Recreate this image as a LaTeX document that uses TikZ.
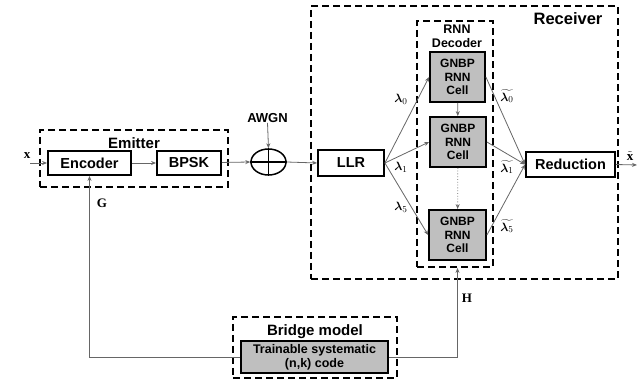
\documentclass[tikz,border=0pt]{standalone}
\usepackage{fontspec}
\usepackage{amsmath,bm}
\setmainfont{Liberation Serif}
\setsansfont{Liberation Sans}
\usetikzlibrary{arrows.meta,shapes.geometric}
\begin{document}
\begin{tikzpicture}[x=1pt,y=-1pt,
  blk/.style={draw=black,line width=1.8pt,inner sep=0pt,font=\sffamily\bfseries\fontsize{14.5}{16}\selectfont},
  cell/.style={blk,fill=black!25,align=center,font=\sffamily\bfseries\fontsize{12}{13.5}\selectfont},
  dbox/.style={draw=black,line width=1.8pt,dash pattern=on 7pt off 4pt,inner sep=0pt},
  ttl/.style={font=\sffamily\bfseries\fontsize{15}{16}\selectfont,inner sep=0pt},
  arr/.style={draw=black!60,line width=0.8pt,-{Stealth[length=5pt,width=4pt]}},
  lbl/.style={font=\fontsize{13}{14}\selectfont\bfseries,inner sep=0pt}]
\useasboundingbox (0,0) rectangle (641,379);
% dashed containers
\node[dbox,minimum width=188pt,minimum height=57pt] (emit) at (134,158.5) {};
\node[dbox,minimum width=307pt,minimum height=273pt] (recv) at (464.5,142.5) {};
\node[dbox,minimum width=76pt,minimum height=246pt] (rnn) at (455,144) {};
\node[dbox,minimum width=164pt,minimum height=61pt] (bridge) at (315,347.5) {};
% titles
\node[ttl] (temit) at (134,143) {Emitter};
\node[ttl,font=\sffamily\bfseries\fontsize{16.5}{18}\selectfont] (trecv) at (568,19) {Receiver};
\node[ttl,align=center,font=\sffamily\bfseries\fontsize{12.5}{14}\selectfont] (trnn) at (457,36) {RNN\\Decoder};
\node[ttl] (tbridge) at (315,332) {Bridge model};
% blocks
\node[blk,minimum width=83pt,minimum height=24pt] (enc) at (89.5,163) {Encoder};
\node[blk,minimum width=64pt,minimum height=24pt] (bpsk) at (189,163) {BPSK};
\node[draw=black,line width=1.5pt,ellipse,minimum width=35pt,minimum height=26pt,inner sep=0pt] (add) at (268.5,162) {};
\draw[line width=1.5pt] (add.north) -- (add.south) (add.west) -- (add.east);
\node[ttl,font=\sffamily\bfseries\fontsize{13}{14}\selectfont] (awgn) at (267.5,118) {AWGN};
\node[blk,minimum width=66pt,minimum height=26pt] (llr) at (351,163) {LLR};
\node[cell,minimum width=55pt,minimum height=50pt] (c1) at (457.5,77) {GNBP\\RNN\\Cell};
\node[cell,minimum width=56pt,minimum height=50pt] (c2) at (458,142) {GNBP\\RNN\\Cell};
\node[cell,minimum width=57pt,minimum height=50pt] (c3) at (457.5,235) {GNBP\\RNN\\Cell};
\node[blk,minimum width=89pt,minimum height=25pt] (red) at (570.5,164.5) {Reduction};
\node[cell,minimum width=147pt,minimum height=32pt,font=\sffamily\bfseries\fontsize{12.5}{14}\selectfont] (code) at (314.5,357) {Trainable systematic\\(n,k) code};
% free ends
\coordinate (xin) at (30,163);
\coordinate (xout) at (637,165);
% connectors
\draw[arr] (xin) -- (enc.west);
\node[lbl] (xl) at (27,156) {x};
\draw[arr] (enc) -- (bpsk);
\draw[arr] (bpsk) -- (add.west);
\draw[arr] (awgn.south) -- (add.north);
\draw[arr] (add.east) -- (llr.west);
\draw[arr] (llr.east) -- (c1.west);
\draw[arr] (llr.east) -- (c2.west);
\draw[arr] (llr.east) -- (c3.west);
\draw[arr] (c1.east) -- (red.west);
\draw[arr] (c2.east) -- (red.west);
\draw[arr] (c3.east) -- (red.west);
\draw[arr] (c1) -- (c2);
\draw[arr,dotted] (c2) -- (c3);
\draw[arr] (red.east) -- (xout);
\node[lbl] (xt) at (630,156) {$\tilde{\mathbf{x}}$};
\draw[arr] (code.west) -| (enc.south);
\node[lbl] (gl) at (102,203) {G};
\draw[arr] (code.east) -| (c3.south |- rnn.south);
\node[lbl] (hl) at (467,298) {H};
% lambda labels
\node[lbl] (l0) at (401,99) {$\bm{\lambda}_0$};
\node[lbl] (l1) at (401,167) {$\bm{\lambda}_1$};
\node[lbl] (l5) at (401,207) {$\bm{\lambda}_5$};
\node[lbl] (t0) at (507,96) {$\widetilde{\bm{\lambda}_0}$};
\node[lbl] (t1) at (507,167) {$\widetilde{\bm{\lambda}_1}$};
\node[lbl] (t5) at (507,226) {$\widetilde{\bm{\lambda}_5}$};
\end{tikzpicture}
\end{document}
